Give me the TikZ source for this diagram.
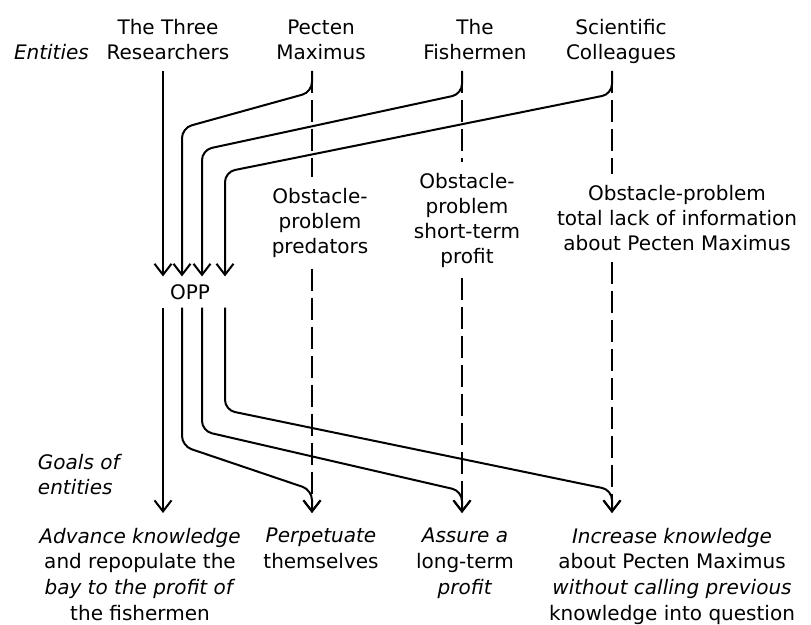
\documentclass[tikz,border=0pt]{standalone}
\usepackage{fontspec}
\setmainfont{DejaVu Sans}
\usetikzlibrary{arrows.meta,calc}

\begin{document}
\begin{tikzpicture}[
  x=0.5pt, y=-0.5pt, line width=1pt,
  font=\fontsize{10}{12.5}\selectfont,
  flow/.style={line width=1pt, -{Straight Barb[length=5.5pt,width=8.5pt]}},
  route/.style={flow, rounded corners=5pt},
  hint/.style={dash pattern=on 11pt off 3.5pt},
  who/.style={align=center, anchor=south, inner xsep=0pt, inner ysep=5pt, text depth=0pt},
  obst/.style={align=center, inner xsep=0pt, inner ysep=5pt},
  goal/.style={align=center, anchor=north, inner xsep=0pt, inner ysep=7pt,
    font=\fontsize{10}{12.9}\selectfont},
  side/.style={font=\fontsize{10}{12.5}\selectfont\itshape, align=left, inner sep=0pt},
]
  \useasboundingbox (0,0) rectangle (811,625);

  % Lanes: the x where each entity's line runs down.
  \def\xr{163} \def\xp{312} \def\xf{462} \def\xc{612}
  \coordinate (lr) at (\xr,0);
  \coordinate (lp) at (\xp,0);
  \coordinate (lf) at (\xf,0);
  \coordinate (lc) at (\xc,0);

  % Entities along the top.
  \node[side, anchor=base west] (ent) at (13,60) {Entities};
  \node[who] (res) at (168,71) {The Three\\Researchers};
  \node[who] (pec) at (321,71) {Pecten\\Maximus};
  \node[who] (fis) at (475,71) {The\\Fishermen};
  \node[who] (col) at (621,71) {Scientific\\Colleagues};

  % The obligatory passage point.
  \node[inner sep=3.5pt] (opp) at (190,292) {OPP};

  % Obstacles sitting on each entity's own lane.
  \node[obst] (obpec) at (320,223) {Obstacle-\\problem\\predators};
  \node[obst] (obfis) at (467,220) {Obstacle-\\problem\\short-term\\profit};
  \node[obst] (obcol) at (677,218) {Obstacle-problem\\total lack of information\\about Pecten Maximus};

  % Goals along the bottom.
  \node[side, anchor=west] (gl) at (37,475) {Goals of\\entities};
  \node[goal] (gres) at (140,513) {\textit{Advance knowledge}\\and repopulate the\\\textit{bay to the profit of}\\the fishermen};
  \node[goal] (gpec) at (321,513) {\textit{Perpetuate}\\themselves};
  \node[goal] (gfis) at (465,513) {\textit{Assure a}\\long-term\\\textit{profit}};
  \node[goal] (gcol) at (672,513) {\textit{Increase knowledge}\\about Pecten Maximus\\\textit{without calling previous}\\knowledge into question};

  % Dashed: the way each would go on its own.
  \draw[hint] (lp |- pec.south) -- (lp |- obpec.north);
  \draw[hint] (lf |- fis.south) -- (lf |- obfis.north);
  \draw[hint] (lc |- col.south) -- (lc |- obcol.north);
  \draw[flow, hint] (lp |- obpec.south) -- (lp |- gpec.north);
  \draw[flow, hint] (lf |- obfis.south) -- (lf |- gfis.north);
  \draw[flow, hint] (lc |- obcol.south) -- (lc |- gcol.north);

  % Into the OPP.
  \draw[flow] (lr |- res.south) -- ($(opp.north)+(-27,0)$);
  \draw[route] (lp |- pec.south) -- (\xp,92) -- (182,128) -- ($(opp.north)+(-8,0)$);
  \draw[route] (lf |- fis.south) -- (\xf,94) -- (202,150) -- ($(opp.north)+(12,0)$);
  \draw[route] (lc |- col.south) -- (\xc,94) -- (225,172) -- ($(opp.north)+(35,0)$);

  % Out of the OPP, back to each goal.
  \draw[flow] ($(opp.south)+(-27,0)$) -- (lr |- gres.north);
  \draw[route] ($(opp.south)+(-8,0)$) -- (182,446) -- (\xp,490) -- (lp |- gpec.north);
  \draw[route] ($(opp.south)+(12,0)$) -- (202,431) -- (\xf,491) -- (lf |- gfis.north);
  \draw[route] ($(opp.south)+(35,0)$) -- (225,410) -- (\xc,490) -- (lc |- gcol.north);
\end{tikzpicture}
\end{document}
